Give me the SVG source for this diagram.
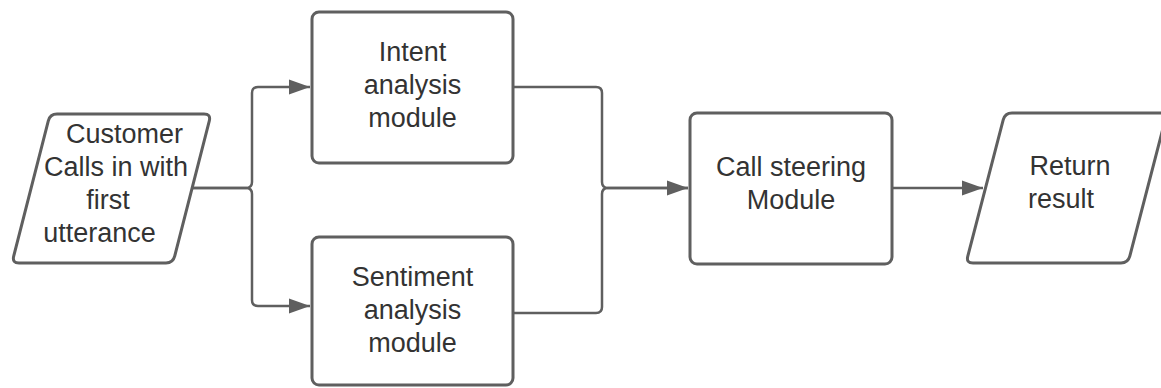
<svg xmlns="http://www.w3.org/2000/svg" width="1161" height="388" viewBox="0 0 1161 388">
  <style>
    .shape { fill: #ffffff; stroke: #5f5f5f; stroke-width: 3; stroke-linejoin: round; }
    .edge { fill: none; stroke: #5f5f5f; stroke-width: 2.5; }
    .label { font-family: "Liberation Sans", Arial, sans-serif; font-size: 27px; fill: #333333; text-anchor: middle; }
  </style>
  <defs>
    <marker id="arrow" markerUnits="userSpaceOnUse" markerWidth="22" markerHeight="16" refX="21" refY="8" orient="auto">
      <path d="M0,0.5 L21,8 L0,15.5 Z" fill="#5f5f5f"/>
    </marker>
  </defs>

  <rect width="1161" height="388" fill="#ffffff"/>

  <!-- connectors -->
  <g id="connectors">
    <path class="edge" d="M193,188 L246,188 Q252,188 252,182 L252,93 Q252,87 258,87 L310,87" marker-end="url(#arrow)"/>
    <path class="edge" d="M193,188 L246,188 Q252,188 252,194 L252,300 Q252,306 258,306 L310,306" marker-end="url(#arrow)"/>
    <path class="edge" d="M513,87 L596,87 Q602,87 602,93 L602,182 Q602,188 608,188 L688,188" marker-end="url(#arrow)"/>
    <path class="edge" d="M513,313 L596,313 Q602,313 602,307 L602,194 Q602,188 608,188 L688,188"/>
    <path class="edge" d="M892,188 L983,188" marker-end="url(#arrow)"/>
  </g>

  <!-- input: customer call -->
  <g id="customer-call">
    <path class="shape" d="M57,114 L204,114 Q211,114 209.3,120.8 L174.7,256.2 Q173,263 166,263 L19,263 Q12,263 13.7,256.2 L48.3,120.8 Q50,114 57,114 Z"/>
    <text class="label" x="124.5" y="142.5">Customer</text>
    <text class="label" x="116" y="176">Calls in with</text>
    <text class="label" x="108" y="209">first</text>
    <text class="label" x="99.5" y="242">utterance</text>
  </g>

  <!-- intent analysis -->
  <g id="intent-analysis">
    <rect class="shape" x="312" y="12" width="201" height="151" rx="7" ry="7"/>
    <text class="label" x="412.5" y="61">Intent</text>
    <text class="label" x="412.5" y="94">analysis</text>
    <text class="label" x="412.5" y="127">module</text>
  </g>

  <!-- sentiment analysis -->
  <g id="sentiment-analysis">
    <rect class="shape" x="312" y="237" width="201" height="148" rx="7" ry="7"/>
    <text class="label" x="412.5" y="286">Sentiment</text>
    <text class="label" x="412.5" y="319">analysis</text>
    <text class="label" x="412.5" y="352">module</text>
  </g>

  <!-- call steering -->
  <g id="call-steering">
    <rect class="shape" x="690" y="113" width="202" height="151" rx="7" ry="7"/>
    <text class="label" x="791" y="176">Call steering</text>
    <text class="label" x="791" y="209">Module</text>
  </g>

  <!-- output: return result -->
  <g id="return-result">
    <path class="shape" d="M1012,113 L1160,113 Q1167,113 1165.2,119.8 L1129.8,256.2 Q1128,263 1121,263 L973,263 Q966,263 967.8,256.2 L1003.2,119.8 Q1005,113 1012,113 Z"/>
    <text class="label" x="1070" y="175">Return</text>
    <text class="label" x="1061" y="208">result</text>
  </g>
</svg>
